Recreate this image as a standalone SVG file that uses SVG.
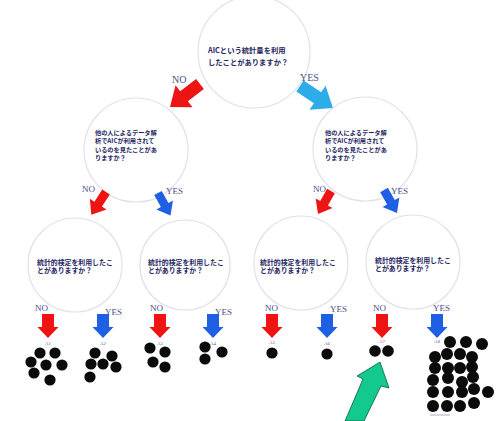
<svg xmlns="http://www.w3.org/2000/svg" width="498" height="421" viewBox="0 0 498 421">
<defs>
<path id="darr" d="M0,-5 L16,-5 L16,-11 L30,0 L16,11 L16,5 L0,5 Z"/>
<path id="varr" d="M-6,0 L6,0 L6,13 L10.5,13 L0,24 L-10.5,13 L-6,13 Z"/>
<style>
.node{fill:none;stroke:#e0e0ea;stroke-width:1.2}
.q{font-family:"Noto Sans CJK JP","Noto Sans",sans-serif;font-weight:bold;fill:#23235e}
.lab{font-family:"Liberation Serif",serif;fill:#4a4f86}
.a{font-family:"Liberation Serif",serif;font-size:5px;fill:#5a6090}
.red{fill:#ef1414}
.blue{fill:#1f5fe4}
.cyan{fill:#2cadea}
.dot{fill:#0b0b0b}
</style>
</defs>
<rect width="498" height="421" fill="#ffffff"/>

<g id="n-root">
<circle class="node" cx="254" cy="52" r="56"/>
<text class="q" font-size="7.3"><tspan x="208" y="53">AICという統計量を利用</tspan><tspan x="208" y="65">したことがありますか？</tspan></text>
</g>

<g id="n-left">
<circle class="node" cx="136" cy="150" r="52"/>
<text class="q" font-size="6.2"><tspan x="95" y="134.5">他の人によるデータ解</tspan><tspan x="95" y="143">析でAICが利用されて</tspan><tspan x="95" y="151.5">いるのを見たことがあ</tspan><tspan x="95" y="160">りますか？</tspan></text>
</g>

<g id="n-right">
<circle class="node" cx="365" cy="149" r="52"/>
<text class="q" font-size="6.2"><tspan x="325" y="134.5">他の人によるデータ解</tspan><tspan x="325" y="143">析でAICが利用されて</tspan><tspan x="325" y="151.5">いるのを見たことがあ</tspan><tspan x="325" y="160">りますか？</tspan></text>
</g>

<g id="n-ll">
<circle class="node" cx="75" cy="265" r="47"/>
<text class="q" font-size="6.9"><tspan x="37" y="264.5">統計的検定を利用したこ</tspan><tspan x="37" y="273">とがありますか？</tspan></text>
</g>

<g id="n-lr">
<circle class="node" cx="185" cy="265" r="45"/>
<text class="q" font-size="6.9"><tspan x="148" y="264.5">統計的検定を利用したこ</tspan><tspan x="148" y="273">とがありますか？</tspan></text>
</g>

<g id="n-rl">
<circle class="node" cx="301" cy="263" r="47"/>
<text class="q" font-size="6.9"><tspan x="260" y="264.5">統計的検定を利用したこ</tspan><tspan x="260" y="273">とがありますか？</tspan></text>
</g>

<g id="n-rr">
<circle class="node" cx="413" cy="262" r="47"/>
<text class="q" font-size="6.9"><tspan x="375" y="262.5">統計的検定を利用したこ</tspan><tspan x="375" y="271">とがありますか？</tspan></text>
</g>

<g id="connectors">
<use href="#darr" class="red" transform="translate(200,84) rotate(142.5) scale(1.26)"/>
<use href="#darr" class="cyan" transform="translate(300,86) rotate(33.7) scale(1.32)"/>
<use href="#darr" class="red" transform="translate(106,192) rotate(123) scale(0.9)"/>
<use href="#darr" class="blue" transform="translate(158,193) rotate(61) scale(0.86)"/>
<use href="#darr" class="red" transform="translate(331,191) rotate(119.5) scale(0.88)"/>
<use href="#darr" class="blue" transform="translate(384,190) rotate(60.5) scale(0.88)"/>
<text class="lab" x="172" y="83" font-size="10">NO</text>
<text class="lab" x="300" y="81" font-size="10">YES</text>
<text class="lab" x="82" y="192" font-size="9">NO</text>
<text class="lab" x="166" y="194" font-size="9">YES</text>
<text class="lab" x="313" y="192" font-size="9">NO</text>
<text class="lab" x="391" y="194" font-size="9">YES</text>

<use href="#varr" class="red" x="48" y="314"/>
<use href="#varr" class="blue" x="103" y="314"/>
<use href="#varr" class="red" x="160" y="314"/>
<use href="#varr" class="blue" x="213" y="314"/>
<use href="#varr" class="red" x="272" y="314"/>
<use href="#varr" class="blue" x="327" y="314"/>
<use href="#varr" class="red" x="382" y="314"/>
<use href="#varr" class="blue" x="437" y="314"/>
<text class="lab" x="35" y="311" font-size="9">NO</text>
<text class="lab" x="105" y="315" font-size="9">YES</text>
<text class="lab" x="150" y="311" font-size="9">NO</text>
<text class="lab" x="215" y="315" font-size="9">YES</text>
<text class="lab" x="265" y="311" font-size="9">NO</text>
<text class="lab" x="330" y="312" font-size="9">YES</text>
<text class="lab" x="373" y="311" font-size="9">NO</text>
<text class="lab" x="433" y="311" font-size="9">YES</text>
</g>

<g id="a1">
<text class="a" x="48" y="345" text-anchor="middle">A1</text>
<circle class="dot" cx="40" cy="353" r="5.6"/><circle class="dot" cx="55" cy="353" r="5.6"/>
<circle class="dot" cx="31" cy="362" r="5.6"/><circle class="dot" cx="46" cy="365" r="5.6"/>
<circle class="dot" cx="62" cy="365" r="5.6"/><circle class="dot" cx="34" cy="373" r="5.6"/>
<circle class="dot" cx="50" cy="380" r="5.6"/>
</g>

<g id="a2">
<text class="a" x="103" y="345" text-anchor="middle">A2</text>
<circle class="dot" cx="95" cy="353" r="5.6"/><circle class="dot" cx="112" cy="356" r="5.6"/>
<circle class="dot" cx="91" cy="364" r="5.6"/><circle class="dot" cx="103" cy="364" r="5.6"/>
<circle class="dot" cx="116" cy="367" r="5.6"/><circle class="dot" cx="90" cy="377" r="5.6"/>
</g>

<g id="a3">
<text class="a" x="160" y="345" text-anchor="middle">A3</text>
<circle class="dot" cx="150" cy="348" r="5.6"/><circle class="dot" cx="165" cy="352" r="5.6"/>
<circle class="dot" cx="153" cy="362" r="5.6"/><circle class="dot" cx="165" cy="367" r="5.6"/>
</g>

<g id="a4">
<text class="a" x="213" y="345" text-anchor="middle">A4</text>
<circle class="dot" cx="205" cy="347" r="5.6"/><circle class="dot" cx="222" cy="352" r="5.6"/>
<circle class="dot" cx="205" cy="359" r="5.6"/>
</g>

<g id="a5">
<text class="a" x="272" y="344" text-anchor="middle">A5</text>
<circle class="dot" cx="272" cy="353" r="5.6"/>
</g>

<g id="a6">
<text class="a" x="327" y="345" text-anchor="middle">A6</text>
<circle class="dot" cx="327" cy="354" r="5.6"/>
</g>

<g id="a7">
<text class="a" x="382" y="343" text-anchor="middle">A7</text>
<circle class="dot" cx="375" cy="351" r="5.8"/><circle class="dot" cx="388" cy="351" r="5.8"/>
</g>

<g id="a8">
<text class="a" x="437" y="343" text-anchor="middle">A8</text>
<circle class="dot" cx="450" cy="342" r="6"/><circle class="dot" cx="466" cy="342" r="6"/><circle class="dot" cx="482" cy="344" r="6"/>
<circle class="dot" cx="435" cy="357" r="6"/><circle class="dot" cx="447" cy="354" r="6"/><circle class="dot" cx="460" cy="354" r="6"/><circle class="dot" cx="472" cy="357" r="6"/>
<circle class="dot" cx="435" cy="368" r="6"/><circle class="dot" cx="448" cy="368" r="6"/><circle class="dot" cx="460" cy="368" r="6"/><circle class="dot" cx="472" cy="367" r="6"/>
<circle class="dot" cx="433" cy="380" r="6"/><circle class="dot" cx="448" cy="378" r="6"/><circle class="dot" cx="462" cy="382" r="6"/><circle class="dot" cx="473" cy="377" r="6"/>
<circle class="dot" cx="433" cy="392" r="6"/><circle class="dot" cx="448" cy="392" r="6"/><circle class="dot" cx="462" cy="392" r="6"/><circle class="dot" cx="474" cy="389" r="6"/><circle class="dot" cx="488" cy="392" r="6"/>
<circle class="dot" cx="433" cy="406" r="6"/><circle class="dot" cx="447" cy="406" r="6"/><circle class="dot" cx="460" cy="406" r="6"/><circle class="dot" cx="474" cy="403" r="6"/>
<line x1="430" y1="415" x2="450" y2="415" stroke="#9a9ab0" stroke-width="0.8"/>
</g>

<g id="pointer">
<path d="M380,362 L389,388 L381,386 L364,421 L345,421 L363,379 L357,376 Z" fill="#14c98f" stroke="#0b5a40" stroke-width="0.8" stroke-linejoin="miter"/>
</g>
</svg>
